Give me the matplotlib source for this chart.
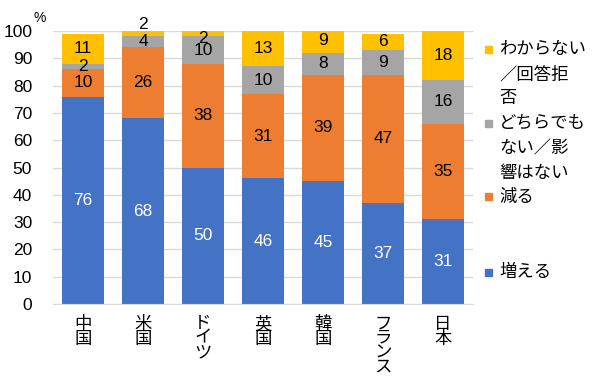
import matplotlib
matplotlib.use("Agg")
import matplotlib.pyplot as plt
import numpy as np

plt.rcParams['font.family'] = ['Liberation Sans', 'Noto Sans CJK JP', 'DejaVu Sans']

countries = ['中国', '米国', 'ドイツ', '英国', '韓国', 'フランス', '日本']
increase = [76, 68, 50, 46, 45, 37, 31]
decrease = [10, 26, 38, 31, 39, 47, 35]
neither = [2, 4, 10, 10, 8, 9, 16]
unknown = [11, 2, 2, 13, 9, 6, 18]

series = [
    ('増える', increase, '#4472C4', 'white'),
    ('減る', decrease, '#ED7D31', 'black'),
    ('どちらでも\nない／影\n響はない', neither, '#A5A5A5', 'black'),
    ('わからない\n／回答拒\n否', unknown, '#FFC000', 'black'),
]
# label vertical offsets (data units) for tiny segments
label_offset = {(3, 1): 3.3, (3, 2): -1.8}

W, H = 600, 386
fig = plt.figure(figsize=(W / 100, H / 100), dpi=100)
ax = fig.add_axes([53 / W, 1 - 304 / H, 420 / W, 273 / H])

x = np.arange(len(countries))
bottom = np.zeros(len(countries))
for si, (name, vals, col, tcol) in enumerate(series):
    vals = np.array(vals, dtype=float)
    ax.bar(x, vals, width=0.7, bottom=bottom, color=col, zorder=2)
    for i, v in enumerate(vals):
        yc = bottom[i] + v / 2 + label_offset.get((si, i), 0)
        ax.text(x[i], yc, f'{int(v)}', ha='center', va='center',
                color=tcol, fontsize=12.5, zorder=3)
    bottom += vals

ax.set_xlim(-0.5, len(countries) - 0.5)
ax.set_ylim(0, 100)
ax.set_yticks(np.arange(0, 101, 10))
ax.yaxis.grid(True, color='#D9D9D9', linewidth=1, zorder=0)
ax.set_axisbelow(True)
for s in ['top', 'right', 'left']:
    ax.spines[s].set_visible(False)
ax.spines['bottom'].set_color('#D9D9D9')
ax.tick_params(axis='y', length=0, labelsize=12.5, pad=15)
ax.set_xticks(x)
ax.set_xticklabels(['\n'.join(c) for c in countries], linespacing=0.95, va='top')
ax.tick_params(axis='x', length=0, labelsize=12.5, pad=9)

fig.text(40 / W, 1 - 18 / H, '%', fontsize=10, ha='center', va='center')

# legend (manual, Excel-like layout)
leg_y = [49, 123, 197, 272]
for (name, vals, col, tcol), y0 in zip(series[::-1], leg_y):
    fig.patches.append(plt.Rectangle(((488 - 3.5) / W, 1 - (y0 + 3.5) / H), 7 / W, 7 / H,
                                     transform=fig.transFigure, color=col, figure=fig))
    for k, line in enumerate(name.split('\n')):
        fig.text(499 / W, 1 - (y0 + 25 * k) / H, line, fontsize=12.5,
                 ha='left', va='center')

fig.savefig('out.png', dpi=100)
